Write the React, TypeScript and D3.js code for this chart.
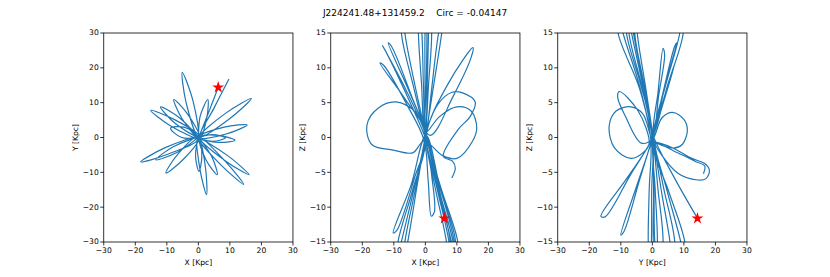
import React from "react";
import * as d3 from "d3";

// orbit projections (kpc)
const xyOrbit: [number, number][] = [
  [6.3, 14.4], [3.6, 8.0], [0.8, 1.6], [0.2, 0.3],
  [0.6, 6.2], [3.0, 10.9], [2.7, 5.8], [0.3, -0.2],
  [-3.9, 10.1], [-5.1, 18.7], [-1.7, 10.5], [-0.2, 0.3],
  [-5.1, 5.3], [-7.8, 10.9], [-3.4, 6.7], [0.3, 0.2],
  [-7.3, 4.0], [-12.0, 8.8], [-5.9, 5.6], [-0.3, -0.1],
  [-8.9, 3.4], [-15.1, 7.8], [-7.7, 5.2], [0.2, 0.4],
  [-5.3, 0.0], [-8.8, 2.7], [-4.3, 2.9], [0.1, -0.3],
  [-9.7, -4.8], [-18.3, -7.0], [-10.5, -2.9], [-0.2, 0.2],
  [-7.0, -4.4], [-13.5, -6.4], [-7.8, -2.6], [0.3, -0.2],
  [-4.9, -6.4], [-10.3, -10.2], [-6.5, -4.8], [-0.1, 0.3],
  [1.1, -5.3], [0.2, -9.7], [-0.9, -5.3], [0.2, -0.1],
  [2.3, -8.9], [2.6, -16.4], [0.5, -9.1], [-0.2, -0.3],
  [4.2, -5.4], [6.0, -10.7], [2.4, -6.4], [0.2, 0.2],
  [8.5, -6.8], [14.4, -13.5], [7.3, -8.0], [-0.1, -0.2],
  [9.3, -5.2], [16.1, -10.7], [8.4, -6.6], [0.3, 0.1],
  [6.4, 0.6], [11.6, -0.8], [6.4, -1.4], [0.1, -0.2],
  [4.5, 0.8], [8.6, -0.1], [4.5, -1.1], [-0.2, 0.1],
  [8.2, 3.0], [15.5, 3.6], [8.8, 1.0], [0.2, -0.1],
  [8.7, 7.0], [16.8, 11.2], [9.8, 5.3], [0.4, 0.2],
  [5.0, 8.5], [9.7, 16.8],
];

const xzOrbit: [number, number][] = [
  [6.0, -11.6], [3.0, -5.2], [0.3, 0.2], [-3.3, 7.5], [-6.5, 15], [-7.2, 19.5], [-7.6, 15], [-3.7, 7.2],
  [0.4, -0.3], [5.2, -7.6], [10.3, -15], [10.6, -19.5], [8.3, -15], [4.0, -7.3], [-0.2, 0.4],
  [-1.2, 7.6], [-2.2, 15], [-2.0, 19.5], [-1.1, 15], [-0.6, 7.4], [0.1, -0.2], [3.2, -7.4],
  [6.7, -15], [7.4, -19], [7.9, -15], [3.6, -6.4], [0.2, 0.3], [-6.2, 6.9], [-13.6, 13.2],
  [-12.6, 12.4], [-5.2, 5.4], [0.5, -0.6], [4.4, -6.8], [9.2, -15], [9.6, -18.5], [8.8, -15],
  [4.6, -7.9], [0.3, 0.5], [-5.5, 7.0], [-11.8, 13.6], [-10.9, 13.2], [-4.6, 6.2], [0, -0.2],
  [-4.0, -7.5], [-8.7, -15], [-9.4, -19], [-7.6, -15], [-3.6, -7.4], [-0.1, 0.1], [0.6, 7.6],
  [1.0, 15], [1.3, 19], [2.0, 15], [1.0, 7.5], [-0.1, 0], [-3.2, -7.5], [-6.5, -15], [-7.0, -17.8],
  [-5.6, -15], [-2.5, -6.6], [0.2, 0.5], [2.6, 7.4], [5.2, 15], [6.2, 19], [4.2, 15], [2.0, 7.0],
  [0.1, -0.3], [-0.1, 7.5], [-0.1, 15], [0.3, 19], [0.5, 15], [0.3, 7.5], [0.0, 0.2], [3.8, -7.5],
  [7.5, -15], [8.4, -19.5], [9.6, -15], [4.8, -7.5], [0.2, 0.3],
  [-4.5, -6.8], [-10.2, -13.7], [-9.0, -13.3], [-3.3, -5.6], [0.3, 0.3], [-6.4, 5.5],
  [-14.4, 10.7], [-13.1, 10.3], [-5.6, 4.5], [-0.4, -0.4], [0.9, -6.2], [1.9, -11.3], [2.9, -10.6],
  [1.9, -5.0], [0.4, 0.6], [7.2, 7.7], [15.1, 12.9], [14.6, 11.6], [8.8, 5.9], [1.5, 0.3],
  [-3.0, 3.6], [-9.2, 5.1], [-15.0, 4.2], [-18.5, 1.8], [-17.0, -1.0], [-10.2, -1.8], [-4.0, -2.2],
  [-0.4, -0.5], [5.5, -2.6], [10.0, -3.0], [15.0, -0.5], [16.3, 1.4], [14.5, 3.8], [10.0, 4.4], [4.5, 3.0],
  [0.5, 0.8], [4.0, 4.8], [8.5, 6.5], [11.8, 6.4], [15.8, 5.1], [14.2, 3.0], [10.5, 1.2],
  [5.7, -2.7], [8.6, -3.4], [9.5, -4.4], [8.4, -5.8],
];

const yzOrbit: [number, number][] = [
  [14.3, -11.6], [7.0, -5.8], [0.3, 0.2], [-4.4, 7.5], [-10.9, 15], [-11.2, 19], [-9.3, 15], [-4.0, 7.3],
  [-0.5, -0.3], [-1.0, -7.5], [-1.3, -15], [-0.8, -19], [-0.3, -15], [-0.2, -7.5], [0.1, 0.4],
  [-3.7, 7.6], [-8.2, 15], [-8.0, 19], [-6.6, 15], [-3.0, 7.4], [0.2, -0.4], [1.8, -7.5],
  [3.4, -15], [2.2, -19], [0.8, -15], [0.5, -7.4], [-0.2, 0.3], [-2.6, 7.5], [-5.6, 15],
  [-5.2, 19], [-4.8, 15], [-2.2, 7.4], [0.4, -0.3], [2.8, -7.5], [5.6, -15], [6.4, -19], [7.1, -15],
  [3.6, -7.3], [0.1, 0.4], [-3.4, 7.5], [-7.4, 15], [-7.0, 19], [-6.0, 15], [-2.8, 7.5], [0.0, -0.2],
  [0.4, -7.5], [0.3, -15], [1.0, -19], [1.6, -15], [0.9, -7.5], [0.2, 0.2],
  [4.2, 7.5], [8.7, 15], [9.3, 18.5], [9.8, 15], [4.7, 7.3], [-0.2, -0.3],
  [-8.0, -5.8], [-16.3, -11.3], [-15.0, -11.4], [-7.0, -5.4], [0.2, 0.2], [3.8, 7.0], [7.7, 13.6],
  [7.0, 13.0], [3.3, 6.3], [-0.1, -0.3], [-5.0, -7.0], [-10.0, -14.0], [-9.0, -13.5], [-4.0, -6.0],
  [0.3, 0.3], [3.5, 5.0], [7.1, 10.5], [6.5, 9.8], [3.0, 4.6], [-0.2, -0.5], [5.0, -7.5], [10.3, -15],
  [10.5, -19], [9.0, -15], [4.4, -7.2], [0.3, 0.2], [1.8, 6.5], [3.4, 12.8], [3.9, 11.9], [2.0, 6.0],
  [0, -0.2], [-3.0, 3.4], [-6.8, 4.4], [-11.5, 3.8], [-13.7, 1.6], [-12.0, -1.5], [-6.8, -3.0],
  [-2.5, -2.0], [-1.0, -0.8], [-4.5, 3.8], [-10.5, 6.6], [-11.0, 5.8], [-8.5, 3.0], [-3.5, -0.8],
  [0.1, -0.2], [3.0, 2.8], [6.4, 3.6], [10.0, 2.6], [11.1, 1.0], [9.5, -1.0], [7.0, -1.5], [3.5, -1.2], [0.6, -0.6],
  [6.0, -1.4], [12.5, -3.0], [16.5, -3.7], [18.1, -4.7], [17.0, -5.9], [14.4, -6.1], [8.0, -5.1], [1.0, -0.8],
  [8.0, -2.2], [13.5, -3.4], [16.6, -4.1], [16.2, -5.2],
];

const starXY: [number, number] = [6.3, 14.4];
const starXZ: [number, number] = [6.0, -11.6];
const starYZ: [number, number] = [14.3, -11.6];

const titleText = "J224241.48+131459.2    Circ = -0.04147";
const xTicks = [-30, -20, -10, 0, 10, 20, 30];
const yTicksWide = [-30, -20, -10, 0, 10, 20, 30];
const yTicksZ = [-15, -10, -5, 0, 5, 10, 15];

const panels = [
  { id: "xy", data: xyOrbit, star: starXY, yDomain: [-30, 30], yTicks: yTicksWide, xLabel: "X [Kpc]", yLabel: "Y [Kpc]" },
  { id: "xz", data: xzOrbit, star: starXZ, yDomain: [-15, 15], yTicks: yTicksZ, xLabel: "X [Kpc]", yLabel: "Z [Kpc]" },
  { id: "yz", data: yzOrbit, star: starYZ, yDomain: [-15, 15], yTicks: yTicksZ, xLabel: "Y [Kpc]", yLabel: "Z [Kpc]" },
];

const W = 830;
const H = 277;
const left0 = 103.75;
const panelW = 189.2;
const gap = 37.8;
const top = 33;
const bottom = 242;
const font = "DejaVu Sans, sans-serif";
const fs = 7.6;
const lineColor = "#1f77b4";

function minus(v: number) {
  return v < 0 ? "\u2212" + Math.abs(v) : String(v);
}

export default function App() {
  const star = d3.symbol(d3.symbolStar, 44)() ?? "";
  return (
    <svg width={W} height={H} style={{ display: "block", position: "absolute", left: 0, top: 0 }} fontFamily={font}>
      <rect width={W} height={H} fill="#fff" />
      <text x={415} y={16} textAnchor="middle" fontSize={9} style={{ whiteSpace: "pre" }}>
        {titleText}
      </text>
      {panels.map((p, i) => {
        const x0 = left0 + i * (panelW + gap);
        const x = d3.scaleLinear().domain([-30, 30]).range([x0, x0 + panelW]);
        const y = d3.scaleLinear().domain(p.yDomain).range([bottom, top]);
        const line = d3
          .line<[number, number]>()
          .x((d) => x(d[0]))
          .y((d) => y(d[1]))
          .curve(d3.curveCatmullRom.alpha(0.5));
        return (
          <g key={p.id}>
            <clipPath id={"clip-" + p.id}>
              <rect x={x0} y={top} width={panelW} height={bottom - top} />
            </clipPath>
            <path
              d={line(p.data) ?? ""}
              fill="none"
              stroke={lineColor}
              strokeWidth={1.2}
              clipPath={`url(#clip-${p.id})`}
            />
            <path d={star} transform={`translate(${x(p.star[0])},${y(p.star[1])})`} fill="red" />
            <rect x={x0} y={top} width={panelW} height={bottom - top} fill="none" stroke="#000" strokeWidth={0.8} />
            {xTicks.map((t) => (
              <g key={"x" + t} transform={`translate(${x(t)},${bottom})`}>
                <line y2={3.5} stroke="#000" strokeWidth={0.8} />
                <text y={11} textAnchor="middle" fontSize={fs}>
                  {minus(t)}
                </text>
              </g>
            ))}
            {p.yTicks.map((t) => (
              <g key={"y" + t} transform={`translate(${x0},${y(t)})`}>
                <line x2={-3.5} stroke="#000" strokeWidth={0.8} />
                <text x={-5} dy="0.32em" textAnchor="end" fontSize={fs}>
                  {minus(t)}
                </text>
              </g>
            ))}
            <text x={x0 + panelW / 2} y={265} textAnchor="middle" fontSize={fs}>
              {p.xLabel}
            </text>
            <text
              transform={`translate(${x0 - 26},${(top + bottom) / 2}) rotate(-90)`}
              textAnchor="middle"
              fontSize={fs}
            >
              {p.yLabel}
            </text>
          </g>
        );
      })}
    </svg>
  );
}
